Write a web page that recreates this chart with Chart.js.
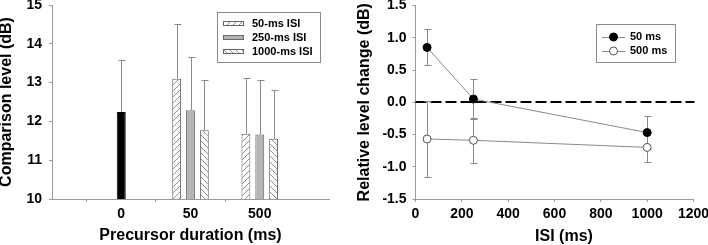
<!DOCTYPE html>
<html><head><meta charset="utf-8">
<script src="https://cdn.jsdelivr.net/npm/chart.js@4"></script>
<style>
html,body{margin:0;padding:0;background:#fff;}
#wrap{position:relative;width:708px;height:245px;}
.c{position:absolute;top:0;width:354px;height:245px;}
</style></head><body>
<div id="wrap">
  <div class="c" style="left:0"><canvas id="c1"></canvas></div>
  <div class="c" style="left:354px"><canvas id="c2"></canvas></div>
</div>
<script>
// ---------- data (left panel) ----------
const durations = ['0', '50', '500'];
const controlMean = [12.24, null, null];
const controlErr  = [1.34, null, null];
const isi50Mean   = [null, 13.10, 11.68];
const isi50Err    = [null, 1.41, 1.44];
const isi250Mean  = [null, 12.29, 11.66];
const isi250Err   = [null, 1.38, 1.41];
const isi1000Mean = [null, 11.77, 11.55];
const isi1000Err  = [null, 1.30, 1.26];
const leftSeriesNames = ['50-ms ISI', '250-ms ISI', '1000-ms ISI'];

// ---------- data (right panel) ----------
const isiMs        = [50, 250, 1000];
const dur50Change  = [0.85, 0.05, -0.47];
const dur50Err     = [0.28, 0.31, 0.25];
const dur500Change = [-0.57, -0.59, -0.70];
const dur500Err    = [0.59, 0.35, 0.23];
const rightSeriesNames = ['50 ms', '500 ms'];

const FONT = "'Liberation Sans', Arial, sans-serif";
const AX = '#9a9a9a';

function hatch(dir) {
  const s = 6, c = document.createElement('canvas');
  c.width = c.height = s;
  const g = c.getContext('2d');
  g.fillStyle = '#fff'; g.fillRect(0, 0, s, s);
  g.strokeStyle = '#8c8c8c'; g.lineWidth = 1;
  g.beginPath();
  if (dir > 0) {
    g.moveTo(0, s); g.lineTo(s, 0);
    g.moveTo(-1, 1); g.lineTo(1, -1);
    g.moveTo(s - 1, s + 1); g.lineTo(s + 1, s - 1);
  } else {
    g.moveTo(0, 0); g.lineTo(s, s);
    g.moveTo(s - 1, -1); g.lineTo(s + 1, 1);
    g.moveTo(-1, s - 1); g.lineTo(1, s + 1);
  }
  g.stroke();
  return g.createPattern(c, 'repeat');
}
const pad = a => [null, ...a, null];

const errorBars = {
  id: 'errorBars',
  beforeDatasetsDraw(chart, args, opts) {
    const ctx = chart.ctx, y = chart.scales.y;
    ctx.save();
    if (opts.zeroLine) {
      const yz = Math.round(y.getPixelForValue(0));
      ctx.strokeStyle = '#000'; ctx.lineWidth = 2; ctx.setLineDash([11, 4]);
      ctx.beginPath(); ctx.moveTo(chart.chartArea.left, yz); ctx.lineTo(chart.chartArea.right + 1, yz); ctx.stroke();
      ctx.setLineDash([]);
    }
    ctx.strokeStyle = '#8a8a8a'; ctx.lineWidth = 1;
    chart.data.datasets.forEach((ds, i) => {
      if (!ds.errors) return;
      const meta = chart.getDatasetMeta(i);
      meta.data.forEach((el, j) => {
        const e = ds.errors[j];
        const v = meta._parsed[j] && meta._parsed[j].y;
        if (e == null || v == null || isNaN(v)) return;
        const x = Math.round(el.x) + 0.5;
        const yt = Math.round(y.getPixelForValue(v + e)) + 0.5;
        const yb = ds.errBoth ? Math.round(y.getPixelForValue(v - e)) + 0.5 : el.y;
        const cw = 3;
        ctx.beginPath();
        ctx.moveTo(x, yb); ctx.lineTo(x, yt);
        ctx.moveTo(x - cw, yt); ctx.lineTo(x + cw + 1, yt);
        if (ds.errBoth) { ctx.moveTo(x - cw, yb); ctx.lineTo(x + cw + 1, yb); }
        ctx.stroke();
      });
    });
    ctx.restore();
  }
};

const boxLegend = {
  id: 'boxLegend',
  afterDraw(chart, args, o) {
    const ctx = chart.ctx;
    ctx.save();
    ctx.strokeStyle = '#8a8a8a'; ctx.lineWidth = 1;
    ctx.strokeRect(o.x + 0.5, o.y + 0.5, o.w, o.h);
    ctx.font = 'bold 11px ' + FONT;
    ctx.textBaseline = 'middle';
    ctx.fillStyle = '#000';
    o.items.forEach((it, k) => {
      const ds = chart.data.datasets[it];
      const yy = o.rowY[k];
      if (o.kind === 'bar') {
        ctx.fillStyle = ds.backgroundColor;
        ctx.fillRect(o.sx, yy - 2.5, o.sw, 5);
        ctx.strokeStyle = ds.borderColor;
        ctx.strokeRect(o.sx + 0.5, yy - 2.5 + 0.5, o.sw - 1, 4);
      } else {
        ctx.strokeStyle = ds.borderColor; ctx.lineWidth = 1;
        ctx.beginPath(); ctx.moveTo(o.sx, Math.round(yy) + 0.5); ctx.lineTo(o.sx + o.sw, Math.round(yy) + 0.5); ctx.stroke();
        ctx.beginPath(); ctx.arc(o.sx + o.sw / 2, yy, ds.pointRadius, 0, Math.PI * 2);
        ctx.fillStyle = ds.pointBackgroundColor; ctx.fill();
        ctx.strokeStyle = ds.pointBorderColor; ctx.stroke();
      }
      ctx.fillStyle = '#000';
      ctx.fillText(ds.label, o.tx, yy);
    });
    ctx.restore();
  }
};

const extraTitle = {
  id: 'extraTitle',
  afterDraw(chart, args, o) {
    if (!o.text) return;
    const ctx = chart.ctx;
    ctx.save();
    ctx.font = 'bold 16px ' + FONT;
    ctx.fillStyle = '#000'; ctx.textAlign = 'center'; ctx.textBaseline = 'middle';
    ctx.fillText(o.text, o.x, o.y);
    ctx.restore();
  }
};

Chart.defaults.font.family = FONT;
Chart.defaults.color = '#000';
Chart.defaults.animation = false;

const tickFont = { family: FONT, size: 14, weight: 'bold' };
const titleFont = { family: FONT, size: 16, weight: 'bold', lineHeight: 1 };

function yFit(w) { return s => { s.width = w; s.paddingTop = 0; s.paddingBottom = 0; }; }
function xFit(h) { return s => { s.height = h; s.paddingLeft = 0; s.paddingRight = 0; }; }

const xLabels = ['', ...durations, ''];

new Chart(document.getElementById('c1'), {
  type: 'bar',
  data: {
    labels: xLabels,
    datasets: [
      { label: 'Control', data: pad(controlMean), errors: pad(controlErr), grouped: false,
        backgroundColor: '#000', borderColor: '#000', borderWidth: 1, maxBarThickness: 9 },
      { label: leftSeriesNames[0], data: pad(isi50Mean), errors: pad(isi50Err),
        backgroundColor: hatch(1), borderColor: '#666', borderWidth: 1 },
      { label: leftSeriesNames[1], data: pad(isi250Mean), errors: pad(isi250Err),
        backgroundColor: '#b5b5b5', borderColor: '#6a6a6a', borderWidth: 1 },
      { label: leftSeriesNames[2], data: pad(isi1000Mean), errors: pad(isi1000Err),
        backgroundColor: hatch(-1), borderColor: '#666', borderWidth: 1 }
    ]
  },
  options: {
    responsive: true, maintainAspectRatio: false,
    datasets: { bar: { categoryPercentage: 0.6, barPercentage: 0.64 } },
    layout: { padding: { left: 0, right: 25, top: 5, bottom: 0 } },
    plugins: {
      legend: { display: false }, tooltip: { enabled: false },
      errorBars: {},
      boxLegend: { kind: 'bar', x: 217, y: 12, w: 103, h: 50, items: [1, 2, 3],
        rowY: [23.5, 37.5, 51.5], sx: 223, sw: 21, tx: 252 },
      extraTitle: {}
    },
    scales: {
      x: {
        offset: false,
        grid: { drawOnChartArea: false, tickLength: 3,
          tickColor: c => (xLabels[c.index] ? AX : 'rgba(0,0,0,0)') },
        border: { color: AX },
        ticks: { autoSkip: false, maxRotation: 0, font: tickFont, padding: 4 },
        title: { display: true, text: 'Precursor duration (ms)', font: titleFont, padding: { top: 0, bottom: 1 } },
        afterFit: xFit(46)
      },
      y: {
        min: 10, max: 15,
        grid: { drawOnChartArea: false, tickLength: 3, color: AX },
        border: { color: AX },
        ticks: { stepSize: 1, font: tickFont, padding: 7 },
        title: { display: true, text: 'Comparison level (dB)', font: titleFont, padding: { top: -1, bottom: 0 } },
        afterFit: yFit(52)
      }
    }
  },
  plugins: [errorBars, boxLegend, extraTitle]
});

new Chart(document.getElementById('c2'), {
  type: 'line',
  data: {
    datasets: [
      { label: rightSeriesNames[0], data: isiMs.map((x, i) => ({ x, y: dur50Change[i] })),
        errors: dur50Err, errBoth: true,
        borderColor: '#8a8a8a', borderWidth: 1, pointRadius: 4,
        pointBackgroundColor: '#000', pointBorderColor: '#000', pointBorderWidth: 1 },
      { label: rightSeriesNames[1], data: isiMs.map((x, i) => ({ x, y: dur500Change[i] })),
        errors: dur500Err, errBoth: true,
        borderColor: '#8a8a8a', borderWidth: 1, pointRadius: 4,
        pointBackgroundColor: '#fff', pointBorderColor: '#555', pointBorderWidth: 1 }
    ]
  },
  options: {
    responsive: true, maintainAspectRatio: false,
    layout: { padding: { left: 0, right: 14.5, top: 5.5, bottom: 0 } },
    plugins: {
      legend: { display: false }, tooltip: { enabled: false },
      errorBars: { zeroLine: true },
      boxLegend: { kind: 'line', x: 242, y: 24, w: 79, h: 38, items: [0, 1],
        rowY: [37, 51], sx: 248, sw: 23, tx: 276 },
      extraTitle: { text: 'ISI (ms)', x: 210, y: 237 }
    },
    scales: {
      x: {
        type: 'linear', min: 0, max: 1200,
        grid: { drawOnChartArea: false, tickLength: 3, color: AX },
        border: { color: AX },
        ticks: { stepSize: 200, font: tickFont, padding: 4, maxRotation: 0, callback: v => String(v) },
        title: { display: false },
        afterFit: xFit(46)
      },
      y: {
        min: -1.5, max: 1.5,
        grid: { drawOnChartArea: false, tickLength: 3, color: AX },
        border: { color: AX },
        ticks: { stepSize: 0.5, font: tickFont, padding: 6, callback: v => v.toFixed(1) },
        title: { display: true, text: 'Relative level change (dB)', font: titleFont, padding: { top: 3, bottom: 0 } },
        afterFit: yFit(61.5)
      }
    }
  },
  plugins: [errorBars, boxLegend, extraTitle]
});
</script>
</body></html>
